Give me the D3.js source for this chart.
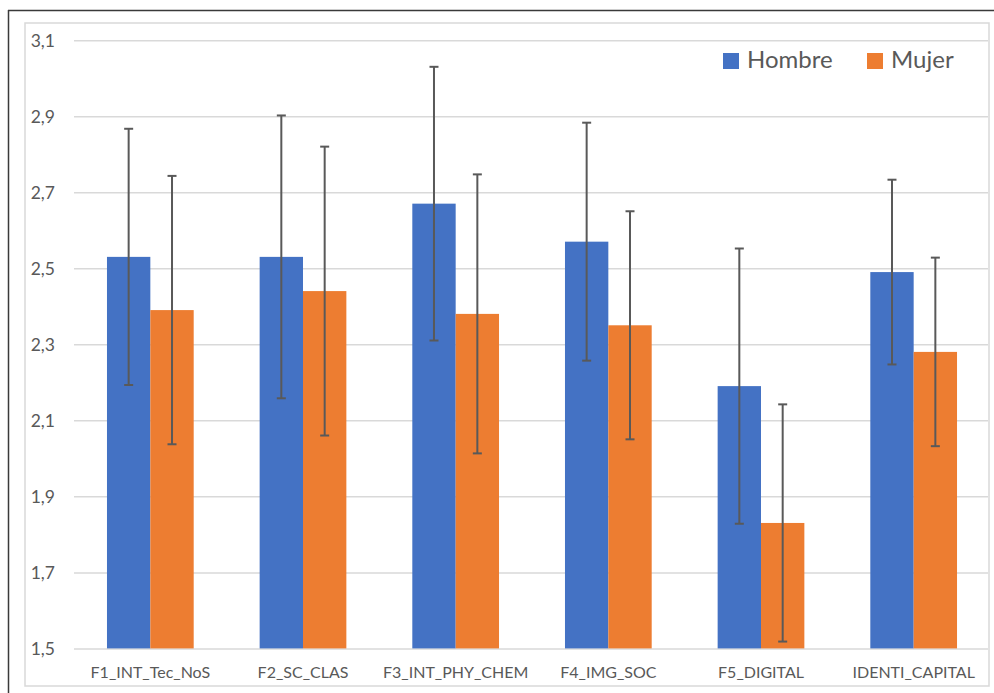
<!DOCTYPE html>
<html><head><meta charset="utf-8">
<script src="https://cdn.jsdelivr.net/npm/d3@7"></script>
<style>
html,body{margin:0;padding:0;background:#fff;}
svg{display:block;}
text{font-family:Lato,"Open Sans",sans-serif;fill:#595959;}
</style></head>
<body>
<svg id="chart" width="994" height="693"></svg>
<script>
const categories = ["F1_INT_Tec_NoS","F2_SC_CLAS","F3_INT_PHY_CHEM","F4_IMG_SOC","F5_DIGITAL","IDENTI_CAPITAL"];
const seriesNames = ["Hombre","Mujer"];
const hombre = [2.53, 2.53, 2.67, 2.57, 2.19, 2.49];
const mujer = [2.39, 2.44, 2.38, 2.35, 1.83, 2.28];
const hombreErr = [0.337, 0.372, 0.36, 0.313, 0.362, 0.243];
const mujerErr = [0.353, 0.38, 0.367, 0.30, 0.312, 0.248];
const yTicks = [1.5, 1.7, 1.9, 2.1, 2.3, 2.5, 2.7, 2.9, 3.1];
const colors = ["#4472C4", "#ED7D31"];

const svg = d3.select("#chart");
const W = 994, H = 693;

// outer window frame
svg.append("line").attr("x1",8).attr("x2",W).attr("y1",10.5).attr("y2",10.5).attr("stroke","#3a3a3a").attr("stroke-width",1.5);
svg.append("line").attr("x1",8.5).attr("x2",8.5).attr("y1",10).attr("y2",H).attr("stroke","#3a3a3a").attr("stroke-width",1.5);
// chart area border
svg.append("rect").attr("x",25).attr("y",23).attr("width",964).attr("height",663)
  .attr("fill","none").attr("stroke","#d9d9d9").attr("stroke-width",1.5);

const x0 = d3.scaleBand().domain(categories).range([74, 990]).paddingInner(0.432).paddingOuter(0.216);
const x1 = d3.scaleBand().domain(seriesNames).range([0, x0.bandwidth()]);
const y = d3.scaleLinear().domain([1.5, 3.1]).range([648.4, 40.2]);

// grid
const fmt = d => d3.format(".1f")(d).replace(".", ",");
const yAxis = d3.axisLeft(y).tickValues(yTicks).tickSize(-(988 - 74)).tickFormat(fmt).tickPadding(19);
const gy = svg.append("g").attr("transform","translate(74,0)").call(yAxis);
gy.select(".domain").remove();
gy.selectAll(".tick line").attr("stroke","#d9d9d9").attr("stroke-width",1.5);
gy.selectAll(".tick text").attr("font-size",17.5).attr("fill","#595959").attr("dy","0.35em");

// bars
const data = categories.map((c,i)=>({cat:c, vals:[
  {s:"Hombre", v:hombre[i], e:hombreErr[i], c:colors[0]},
  {s:"Mujer", v:mujer[i], e:mujerErr[i], c:colors[1]}
]}));
const groups = svg.append("g").selectAll("g").data(data).join("g")
  .attr("transform", d => `translate(${x0(d.cat)},0)`);
groups.selectAll("rect").data(d=>d.vals).join("rect")
  .attr("x", d=>x1(d.s)).attr("width", x1.bandwidth())
  .attr("y", d=>y(d.v)).attr("height", d=>y(1.5)-y(d.v))
  .attr("fill", d=>d.c);

// error bars
const eb = groups.selectAll("g.err").data(d=>d.vals).join("g").attr("class","err");
const cx = d => x1(d.s) + x1.bandwidth()/2;
eb.append("line").attr("x1",cx).attr("x2",cx).attr("y1",d=>y(d.v+d.e)).attr("y2",d=>y(d.v-d.e))
  .attr("stroke","#595959").attr("stroke-width",2);
eb.append("line").attr("x1",d=>cx(d)-4.5).attr("x2",d=>cx(d)+4.5).attr("y1",d=>y(d.v+d.e)).attr("y2",d=>y(d.v+d.e))
  .attr("stroke","#595959").attr("stroke-width",2);
eb.append("line").attr("x1",d=>cx(d)-4.5).attr("x2",d=>cx(d)+4.5).attr("y1",d=>y(d.v-d.e)).attr("y2",d=>y(d.v-d.e))
  .attr("stroke","#595959").attr("stroke-width",2);

// x axis labels
const xAxis = d3.axisBottom(x0).tickSize(0).tickPadding(0);
const gx = svg.append("g").attr("transform","translate(0,648.4)").call(xAxis);
gx.select(".domain").remove();
gx.selectAll(".tick text").attr("font-size",16).attr("fill","#595959").attr("y",30).attr("dy",0);

// legend
const legX = [723, 867];
const leg = svg.append("g").selectAll("g").data(seriesNames).join("g")
  .attr("transform",(d,i)=>`translate(${legX[i]},53)`);
leg.append("rect").attr("width",16).attr("height",16).attr("fill",(d,i)=>colors[i]);
leg.append("text").attr("x",24).attr("y",15).attr("font-size",24).text(d=>d);
</script>
</body></html>
